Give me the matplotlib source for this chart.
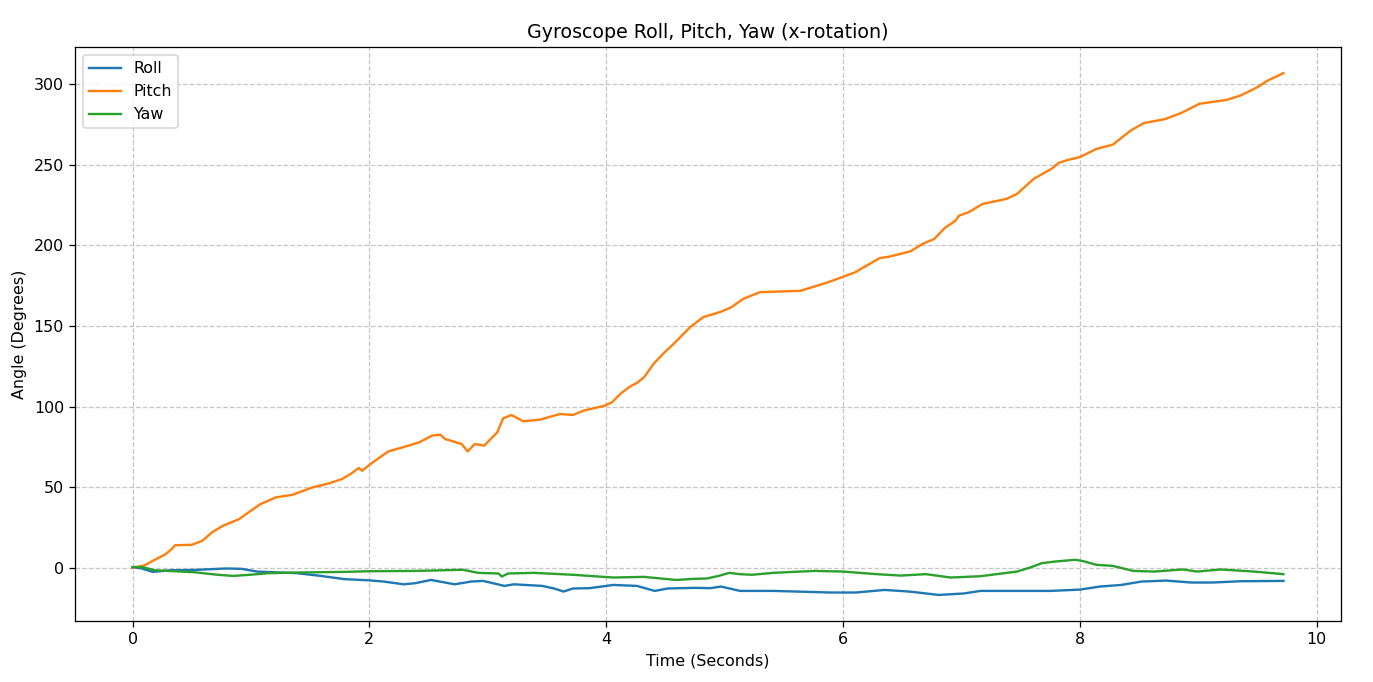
import numpy as np
import matplotlib.pyplot as plt

# values
t_roll = [0, 0.07, 0.17, 0.32, 0.52, 0.79, 0.92, 1.05, 1.39, 1.59, 1.79, 1.99, 2.12, 2.29,
          2.39, 2.52, 2.72, 2.86, 2.96, 3.06, 3.14, 3.22, 3.46, 3.56, 3.64, 3.72, 3.86, 4.06,
          4.26, 4.41, 4.52, 4.75, 4.88, 4.97, 5.13, 5.41, 5.9, 6.11, 6.35, 6.56, 6.81, 7.02,
          7.16, 7.75, 8.0, 8.17, 8.35, 8.52, 8.73, 8.94, 9.12, 9.36, 9.72]
roll = [0.2, -0.2, -2.5, -1.5, -1.3, -0.4, -0.6, -2.3, -3.3, -5.0, -7.0, -7.7, -8.5, -10.2,
        -9.5, -7.5, -10.2, -8.5, -8.1, -9.8, -11.2, -10.2, -11.2, -12.8, -14.7, -12.8, -12.6, -10.6,
        -11.2, -14.3, -12.8, -12.4, -12.6, -11.6, -14.3, -14.3, -15.3, -15.3, -13.7, -14.7, -16.8, -15.9,
        -14.3, -14.3, -13.5, -11.6, -10.6, -8.5, -7.9, -9.1, -9.1, -8.3, -8.1]

t_pitch = [0, 0.1, 0.17, 0.28, 0.33, 0.36, 0.5, 0.59, 0.67, 0.76, 0.9, 0.98, 1.08, 1.21, 1.35,
           1.52, 1.66, 1.77, 1.85, 1.91, 1.94, 2.01, 2.16, 2.28, 2.42, 2.53, 2.6, 2.64, 2.78, 2.83,
           2.89, 2.97, 3.08, 3.13, 3.2, 3.3, 3.44, 3.61, 3.72, 3.81, 3.99, 4.05, 4.12, 4.2, 4.26,
           4.32, 4.4, 4.48, 4.57, 4.71, 4.82, 4.96, 5.05, 5.16, 5.3, 5.64, 5.87, 6.1, 6.31, 6.39,
           6.57, 6.68, 6.77, 6.86, 6.95, 6.98, 7.06, 7.18, 7.38, 7.47, 7.61, 7.76, 7.82, 7.9, 8.0,
           8.14, 8.28, 8.43, 8.54, 8.72, 8.86, 9.01, 9.24, 9.36, 9.5, 9.59, 9.72]
pitch = [0, 1.5, 4.3, 8.5, 11.6, 14.0, 14.3, 16.8, 21.9, 26.0, 30.2, 34.4, 39.5, 43.7, 45.3,
         49.9, 52.4, 55.1, 58.6, 61.9, 60.2, 64.4, 72.2, 74.7, 77.8, 82.0, 82.6, 79.9, 76.8, 72.2,
         76.8, 75.8, 84.0, 92.7, 94.8, 90.9, 91.9, 95.4, 94.8, 97.5, 100.6, 102.7, 107.9, 112.4, 114.7,
         118.2, 126.5, 132.7, 138.9, 149.3, 155.5, 158.6, 161.3, 166.9, 171.0, 171.8, 177.0, 183.2, 192.1, 193.0,
         196.3, 201.2, 203.9, 210.8, 215.3, 218.4, 220.5, 225.7, 228.8, 231.9, 241.2, 247.4, 251.1, 253.0, 254.7,
         259.8, 262.5, 271.2, 275.8, 278.3, 282.2, 287.8, 290.2, 293.0, 298.1, 302.3, 306.8]

t_yaw = [0, 0.08, 0.19, 0.52, 0.72, 0.85, 0.99, 1.15, 1.39, 1.79, 1.99, 2.39, 2.79, 2.92, 3.09,
         3.12, 3.17, 3.39, 3.72, 4.06, 4.32, 4.59, 4.75, 4.85, 4.95, 5.04, 5.13, 5.23, 5.41, 5.76,
         6.0, 6.28, 6.49, 6.7, 6.91, 7.16, 7.47, 7.58, 7.68, 7.79, 7.96, 8.02, 8.14, 8.28, 8.45,
         8.63, 8.87, 8.99, 9.19, 9.47, 9.72]
yaw = [0.5, 0.5, -1.5, -2.7, -4.3, -5.0, -4.3, -3.3, -2.9, -2.5, -2.1, -1.9, -1.2, -3.1, -3.5,
       -5.4, -3.5, -3.1, -4.3, -6.0, -5.6, -7.5, -6.8, -6.6, -5.0, -3.1, -3.9, -4.3, -3.1, -1.9,
       -2.3, -3.9, -4.8, -3.9, -6.0, -5.2, -2.3, 0.2, 2.9, 3.9, 5.0, 4.3, 1.9, 1.2, -1.9,
       -2.3, -1.0, -2.3, -1.0, -2.3, -3.9]

dpi = 114
fig = plt.figure(figsize=(1373 / dpi, 682 / dpi), dpi=dpi)
plt.subplots_adjust(left=0.0546, right=0.9767, top=0.931, bottom=0.0894)

plt.plot(t_roll, roll, label='Roll')
plt.plot(t_pitch, pitch, label='Pitch')
plt.plot(t_yaw, yaw, label='Yaw')

plt.title('Gyroscope Roll, Pitch, Yaw (x-rotation)')
plt.xlabel('Time (Seconds)')
plt.ylabel('Angle (Degrees)')
plt.legend(loc='upper left')
plt.grid(True, linestyle='--', alpha=0.7)

plt.savefig('out.png', dpi=dpi)
